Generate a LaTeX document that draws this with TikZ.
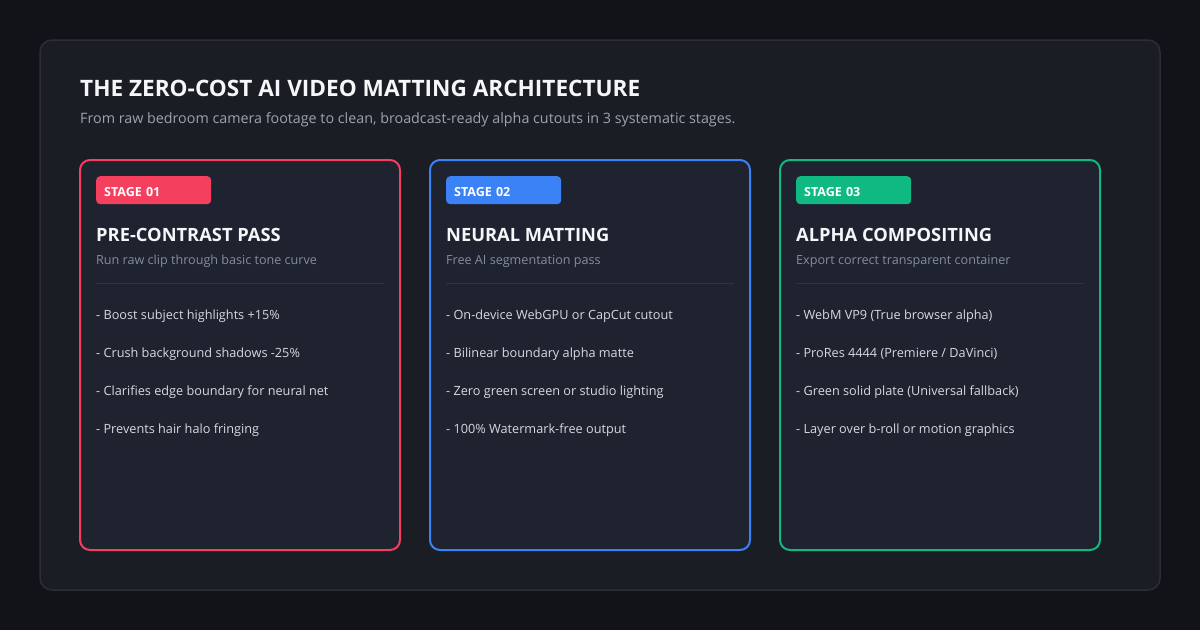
\documentclass[tikz,border=0pt]{standalone}
\usepackage{fontspec}
\setmainfont{Open Sans}
\usetikzlibrary{positioning}
\definecolor{mt-bg}{HTML}{111318}
\definecolor{mt-panel}{HTML}{1A1D24}
\definecolor{mt-edge}{HTML}{2A2E38}
\definecolor{mt-card}{HTML}{1F2330}
\definecolor{mt-rule}{HTML}{2E3340}
\definecolor{mt-text}{HTML}{F5F6F8}
\definecolor{mt-muted}{HTML}{9CA3AF}
\definecolor{mt-dim}{HTML}{868C98}
\definecolor{mt-item}{HTML}{D6D9DF}
\definecolor{mt-red}{HTML}{F43F5E}
\definecolor{mt-blue}{HTML}{3B82F6}
\definecolor{mt-green}{HTML}{10B981}
\newcommand{\stagelabel}[1]{\raisebox{-6.5pt}[0pt][0pt]{#1}}

\begin{document}
\begin{tikzpicture}[x=1pt, y=-1pt,
    txt/.style={anchor=base west, inner sep=0pt},
    headline/.style={txt, text=mt-text, font=\fontsize{22.6}{26}\selectfont\bfseries},
    tagline/.style={txt, text=mt-muted, font=\fontsize{14.3}{18}\selectfont},
    card/.style={line width=2pt, fill=mt-card, rounded corners=10pt},
    badge/.style={anchor=north west, minimum height=28pt, text width=99pt, inner xsep=8pt,
        inner ysep=0pt, rounded corners=4pt, text=white, font=\fontsize{12.5}{14}\selectfont\bfseries},
    cardtitle/.style={txt, text=mt-text, font=\fontsize{18.3}{22}\selectfont\bfseries},
    cardsub/.style={txt, text=mt-dim, font=\fontsize{12.6}{15}\selectfont},
    item/.style={txt, text=mt-item, font=\fontsize{12.7}{15}\selectfont}]
    % --- background and panel ---
    \fill[mt-bg] (0,0) rectangle (1200,630);
    \useasboundingbox (0,0) rectangle (1200,630);
    \draw[mt-edge, fill=mt-panel, line width=1.5pt, rounded corners=12pt] (40,40) rectangle (1160,590);

    % Heading
    \node[headline] (head) at (80,96) {THE ZERO-COST AI VIDEO MATTING ARCHITECTURE};
    \node[tagline] (tag) at (80,123) {From raw bedroom camera footage to clean, broadcast-ready alpha cutouts in 3 systematic stages.};

    % --- Stage 01 ---
    \begin{scope}[shift={(0,0)}]
        \draw[card, draw=mt-red] (80,160) rectangle (400,550);
        \node[badge, fill=mt-red] (s1tag) at (96,176) {\stagelabel{STAGE 01}};
        \node[cardtitle] (s1name) at (96,241) {PRE-CONTRAST PASS};
        \node[cardsub] (s1sub) at (96,264) {Run raw clip through basic tone curve};
        \draw[mt-rule] (96,283) -- (384,283);
        \node[item] (s1a) at (96,319) {- Boost subject highlights +15\%};
        \node[item] (s1b) at (96,357) {- Crush background shadows -25\%};
        \node[item] (s1c) at (96,395) {- Clarifies edge boundary for neural net};
        \node[item] (s1d) at (96,433) {- Prevents hair halo fringing};
    \end{scope}

    % --- Stage 02 ---
    \begin{scope}[shift={(350,0)}]
        \draw[card, draw=mt-blue] (80,160) rectangle (400,550);
        \node[badge, fill=mt-blue] (s2tag) at (96,176) {\stagelabel{STAGE 02}};
        \node[cardtitle] (s2name) at (96,241) {NEURAL MATTING};
        \node[cardsub] (s2sub) at (96,264) {Free AI segmentation pass};
        \draw[mt-rule] (96,283) -- (384,283);
        \node[item] (s2a) at (96,319) {- On-device WebGPU or CapCut cutout};
        \node[item] (s2b) at (96,357) {- Bilinear boundary alpha matte};
        \node[item] (s2c) at (96,395) {- Zero green screen or studio lighting};
        \node[item] (s2d) at (96,433) {- 100\% Watermark-free output};
    \end{scope}

    % --- Stage 03 ---
    \begin{scope}[shift={(700,0)}]
        \draw[card, draw=mt-green] (80,160) rectangle (400,550);
        \node[badge, fill=mt-green] (s3tag) at (96,176) {\stagelabel{STAGE 03}};
        \node[cardtitle] (s3name) at (96,241) {ALPHA COMPOSITING};
        \node[cardsub] (s3sub) at (96,264) {Export correct transparent container};
        \draw[mt-rule] (96,283) -- (384,283);
        \node[item] (s3a) at (96,319) {- WebM VP9 (True browser alpha)};
        \node[item] (s3b) at (96,357) {- ProRes 4444 (Premiere / DaVinci)};
        \node[item] (s3c) at (96,395) {- Green solid plate (Universal fallback)};
        \node[item] (s3d) at (96,433) {- Layer over b-roll or motion graphics};
    \end{scope}
\end{tikzpicture}
\end{document}
